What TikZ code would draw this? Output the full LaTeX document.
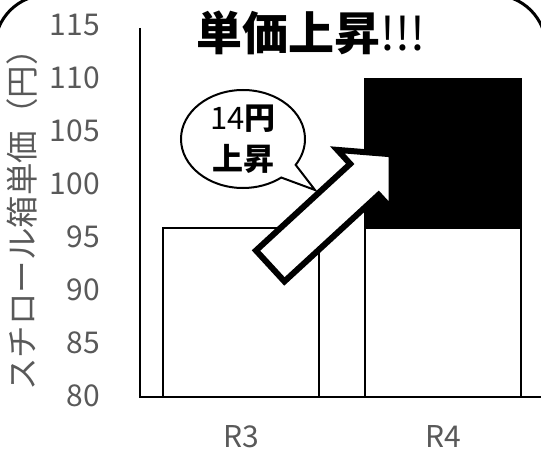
\documentclass[tikz,border=0pt]{standalone}
\usepackage{fontspec}
\setmainfont{Noto Sans CJK JP}
\usepackage{tikz}
\usetikzlibrary{shapes, shapes.callouts, positioning, calc}

\definecolor{axisgray}{HTML}{595959}

\begin{document}
\begin{tikzpicture}[x=1pt, y=-1pt, line join=miter]
	\tikzstyle{ticklab} = [text=axisgray, anchor=east, inner sep=0pt,
		font=\fontsize{30}{30}\selectfont]
	\tikzstyle{catlab} = [text=axisgray, inner sep=0pt,
		font=\fontsize{30}{30}\selectfont]
	\tikzstyle{bar} = [draw, line width=2, fill=white]
	\tikzstyle{axis} = [draw, line width=2]
	\tikzstyle{uparrow} = [draw, line width=6, fill=white]

	\useasboundingbox (0,0) rectangle (541,452);
	\clip (0,0) rectangle (541,452);

	% frame
	\draw[line width=3, rounded corners=52] (-5,-5) rectangle (546,600);

	% tick labels
	\foreach \v [count=\i from 0] in {80,85,...,115}
		\node[ticklab] (t\v) at (100,{396-\i*53}) {\v};

	% y axis title
	\node[text=axisgray, rotate=90, inner sep=0pt,
		font=\fontsize{32.5}{32.5}\selectfont] (ytitle) at (22,212)
		{スチロール箱単価（円）};

	% bars
	\draw[bar] (163,228) rectangle (319,397);
	\draw[bar] (365,228) rectangle (521,397);
	\draw[bar, fill=black] (365,79) rectangle (521,228);

	% axes
	\coordinate (origin) at (140,397);
	\coordinate (ytop) at (140,28);
	\coordinate (xend) at (545,397);
	\path[axis] (ytop) -- (origin) -- (xend);

	\node[catlab] (r3) at (241,437) {R3};
	\node[catlab] (r4) at (443,437) {R4};

	% title
	\node[inner sep=0pt, font=\fontsize{46}{46}\selectfont] (title)
		at (311,33) {\textbf{単価上昇}!!!};

	% speech bubble
	\coordinate (tailtip) at (315,190);
	\node[ellipse callout, draw, fill=white, line width=2, inner sep=0pt,
		minimum width=124, minimum height=98, align=center,
		callout absolute pointer=(tailtip), callout pointer arc=20,
		font=\fontsize{31}{41}\selectfont] (bubble) at (243,139)
		{14\textbf{円}\\\textbf{上昇}};

	% rising arrow
	\begin{scope}[shift={(268,268)}, rotate=42.6]
		\path[uparrow] (3,-21) -- (131,-21) -- (131,-40) -- (168,0)
			-- (131,40) -- (131,21) -- (3,21) -- cycle;
	\end{scope}
\end{tikzpicture}
\end{document}
